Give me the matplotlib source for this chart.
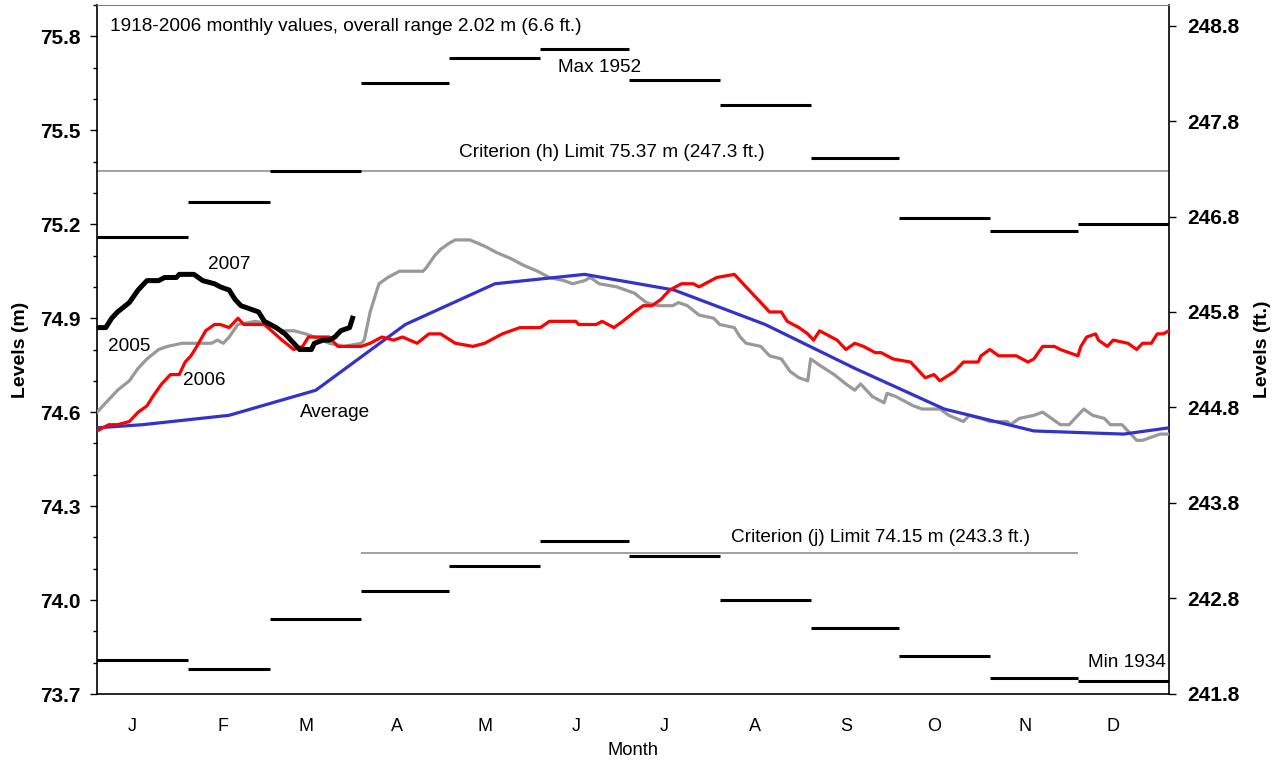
import matplotlib.pyplot as plt
import numpy as np

plt.rcParams['font.family'] = ['Liberation Sans', 'DejaVu Sans']

# meses e extremos mensais 1918-2006 (m)
meses = ["J", "F", "M", "A", "M", "J", "J", "A", "S", "O", "N", "D"]
dias_mes = [31, 28, 31, 30, 31, 30, 31, 31, 30, 31, 30, 31]
maximos = [75.16, 75.27, 75.37, 75.65, 75.73, 75.76, 75.66, 75.58, 75.41, 75.22, 75.18, 75.20]
minimos = [73.81, 73.78, 73.94, 74.03, 74.11, 74.19, 74.14, 74.00, 73.91, 73.82, 73.75, 73.74]

# limites dos criterios (m)
criterio_h = 75.37
criterio_j = 74.15

# media mensal (dia do ano, nivel)
dias_media = [0, 15.5, 45, 74.5, 105, 135.5, 166, 196.5, 227.5, 258, 288.5, 319, 349.5, 365]
media = [74.55, 74.56, 74.59, 74.67, 74.88, 75.01, 75.04, 74.99, 74.88, 74.74, 74.61, 74.54, 74.53, 74.55]

# niveis diarios de 2005
dias_2005 = [0, 4, 7, 11, 14, 17, 21, 24, 29, 39, 41, 43, 45, 48, 54, 59, 63, 67, 71, 74, 79, 84,
             90, 91, 93, 95, 96, 99, 103, 111, 112, 115, 117, 120, 122, 127, 132, 136, 141, 145,
             150, 154, 159, 162, 166, 168, 171, 177, 183, 187, 191, 196, 198, 201, 205, 210, 212,
             217, 219, 221, 226, 229, 233, 236, 239, 242, 243, 246, 251, 255, 258, 260, 264, 268,
             269, 272, 278, 281, 287, 290, 295, 297, 301, 304, 310, 311, 314, 319, 322, 328, 331,
             336, 339, 343, 345, 349, 352, 354, 356, 359, 362, 365]
nivel_2005 = [74.60, 74.64, 74.67, 74.70, 74.74, 74.77, 74.80, 74.81, 74.82, 74.82, 74.83, 74.82,
              74.84, 74.88, 74.89, 74.88, 74.86, 74.86, 74.85, 74.84, 74.82, 74.81, 74.82, 74.83,
              74.92, 74.98, 75.01, 75.03, 75.05, 75.05, 75.06, 75.10, 75.12, 75.14, 75.15, 75.15,
              75.13, 75.11, 75.09, 75.07, 75.05, 75.03, 75.02, 75.01, 75.02, 75.03, 75.01, 75.00,
              74.98, 74.95, 74.94, 74.94, 74.95, 74.94, 74.91, 74.90, 74.88, 74.87, 74.84, 74.82,
              74.81, 74.78, 74.77, 74.73, 74.71, 74.70, 74.77, 74.75, 74.72, 74.69, 74.67, 74.69,
              74.65, 74.63, 74.66, 74.65, 74.62, 74.61, 74.61, 74.59, 74.57, 74.59, 74.58, 74.57,
              74.57, 74.56, 74.58, 74.59, 74.60, 74.56, 74.56, 74.61, 74.59, 74.58, 74.56, 74.56,
              74.53, 74.51, 74.51, 74.52, 74.53, 74.53]

# niveis diarios de 2006
dias_2006 = [0, 4, 7, 11, 14, 17, 19, 22, 25, 28, 30, 32, 34, 37, 40, 42, 45, 48, 50, 57, 63, 67,
             70, 72, 79, 82, 86, 90, 93, 97, 101, 104, 109, 113, 117, 122, 128, 132, 136, 138, 144,
             151, 154, 163, 164, 170, 172, 176, 179, 183, 186, 189, 192, 195, 199, 203, 205, 211,
             217, 219, 222, 225, 227, 229, 233, 235, 237, 239, 242, 244, 246, 248, 252, 255, 258,
             261, 265, 267, 271, 277, 282, 285, 287, 292, 295, 300, 301, 304, 307, 313, 317, 319,
             322, 326, 328, 331, 334, 335, 337, 340, 341, 344, 346, 351, 354, 356, 359, 361, 363,
             365]
nivel_2006 = [74.54, 74.56, 74.56, 74.57, 74.60, 74.62, 74.65, 74.69, 74.72, 74.72, 74.76, 74.78,
              74.81, 74.86, 74.88, 74.88, 74.87, 74.90, 74.88, 74.88, 74.83, 74.80, 74.81, 74.84,
              74.84, 74.81, 74.81, 74.81, 74.82, 74.84, 74.83, 74.84, 74.82, 74.85, 74.85, 74.82,
              74.81, 74.82, 74.84, 74.85, 74.87, 74.87, 74.89, 74.89, 74.88, 74.88, 74.89, 74.87,
              74.89, 74.92, 74.94, 74.94, 74.96, 74.99, 75.01, 75.01, 75.00, 75.03, 75.04, 75.02,
              74.99, 74.96, 74.94, 74.92, 74.92, 74.89, 74.88, 74.87, 74.85, 74.83, 74.86, 74.85,
              74.83, 74.80, 74.82, 74.81, 74.79, 74.79, 74.77, 74.76, 74.71, 74.72, 74.70, 74.73,
              74.76, 74.76, 74.78, 74.80, 74.78, 74.78, 74.76, 74.77, 74.81, 74.81, 74.80, 74.79,
              74.78, 74.81, 74.84, 74.85, 74.83, 74.81, 74.83, 74.82, 74.80, 74.82, 74.82, 74.85,
              74.85, 74.86]

# niveis diarios de 2007 (ate o fim de marco)
dias_2007 = [0, 3, 5, 7, 11, 14, 17, 21, 23, 27, 28, 33, 36, 40, 42, 45, 47, 49, 52, 55, 57, 61,
             64, 67, 69, 73, 74, 77, 79, 81, 83, 86, 87]
nivel_2007 = [74.87, 74.87, 74.90, 74.92, 74.95, 74.99, 75.02, 75.02, 75.03, 75.03, 75.04, 75.04,
              75.02, 75.01, 75.00, 74.99, 74.96, 74.94, 74.93, 74.92, 74.89, 74.87, 74.85, 74.82,
              74.80, 74.80, 74.82, 74.83, 74.83, 74.84, 74.86, 74.87, 74.90]

inicio = np.concatenate([[0], np.cumsum(dias_mes)[:-1]])
fim = np.cumsum(dias_mes)

fig = plt.figure(figsize=(12.78, 7.63), dpi=100)
ax = fig.add_axes([0.0759, 0.0904, 0.8388, 0.903])

# barras de maximo e minimo de cada mes
ax.hlines(maximos, inicio, fim, colors="black", linewidth=2.2, zorder=3)
ax.hlines(minimos, inicio, fim, colors="black", linewidth=2.2, zorder=3)

# limites dos criterios
ax.axhline(criterio_h, color="#A0A0A0", linewidth=1.4, zorder=2)
ax.hlines(criterio_j, inicio[3], fim[10], colors="#A0A0A0", linewidth=1.4, zorder=2)

ax.plot(dias_2005, nivel_2005, color="#999999", linewidth=2.3, zorder=4)
ax.plot(dias_2006, nivel_2006, color="#FF0000", linewidth=2.3, zorder=5)
ax.plot(dias_media, media, color="#3333CC", linewidth=2.3, zorder=4)
ax.plot(dias_2007, nivel_2007, color="black", linewidth=3.6, zorder=6)

ax.set_xlim(0, 365)
ax.set_ylim(73.7, 75.9)

ax.set_xticks(inicio + 12)
ax.set_xticklabels(meses, fontsize=13)
ax.tick_params(axis="x", length=0, pad=17.5)

ax.set_yticks(np.arange(73.7, 75.85, 0.3))
ax.set_yticks(np.arange(73.7, 75.95, 0.1), minor=True)
ax.set_yticklabels(["%.1f" % v for v in np.arange(73.7, 75.85, 0.3)], fontsize=15, fontweight="bold")
ax.tick_params(axis="y", which="major", length=5, width=1, direction="out", pad=7)
ax.tick_params(axis="y", which="minor", length=3, width=1, direction="out")

ax.spines["top"].set_color("#808080")
for lado in ["left", "bottom", "right"]:
    ax.spines[lado].set_color("black")
    ax.spines[lado].set_linewidth(1.2)

ax.set_xlabel("Month", fontsize=13.2, labelpad=5)
ax.set_ylabel("Levels (m)", fontsize=14, fontweight="bold", labelpad=8)

# eixo em pes a direita
ax2 = ax.twinx()
ax2.set_ylim(73.7 * 3.28084, 75.9 * 3.28084)
pes = np.arange(241.8, 248.85, 1.0)
ax2.set_yticks(pes)
ax2.set_yticklabels(["%.1f" % v for v in pes], fontsize=15, fontweight="bold")
ax2.tick_params(axis="y", length=5, width=1, direction="out", pad=8.5)
ax2.set_ylabel("Levels (ft.)", fontsize=14, fontweight="bold", labelpad=10)
for s in ax2.spines.values():
    s.set_visible(False)

# textos
fs = 13.7
ax.text(4.4, 75.83, "1918-2006 monthly values, overall range 2.02 m (6.6 ft.)", fontsize=fs, va="center")
ax.text(157, 75.70, "Max 1952", fontsize=fs, va="center")
ax.text(123.3, 75.43, "Criterion (h) Limit 75.37 m (247.3 ft.)", fontsize=fs, va="center")
ax.text(215.9, 74.20, "Criterion (j) Limit 74.15 m (243.3 ft.)", fontsize=fs, va="center")
ax.text(364, 73.80, "Min 1934", fontsize=fs, va="center", ha="right")
ax.text(37.8, 75.07, "2007", fontsize=fs, va="center")
ax.text(3.7, 74.81, "2005", fontsize=fs, va="center")
ax.text(29.3, 74.70, "2006", fontsize=fs, va="center")
ax.text(69.1, 74.60, "Average", fontsize=fs, va="center")

fig.savefig("out.png", dpi=100)
